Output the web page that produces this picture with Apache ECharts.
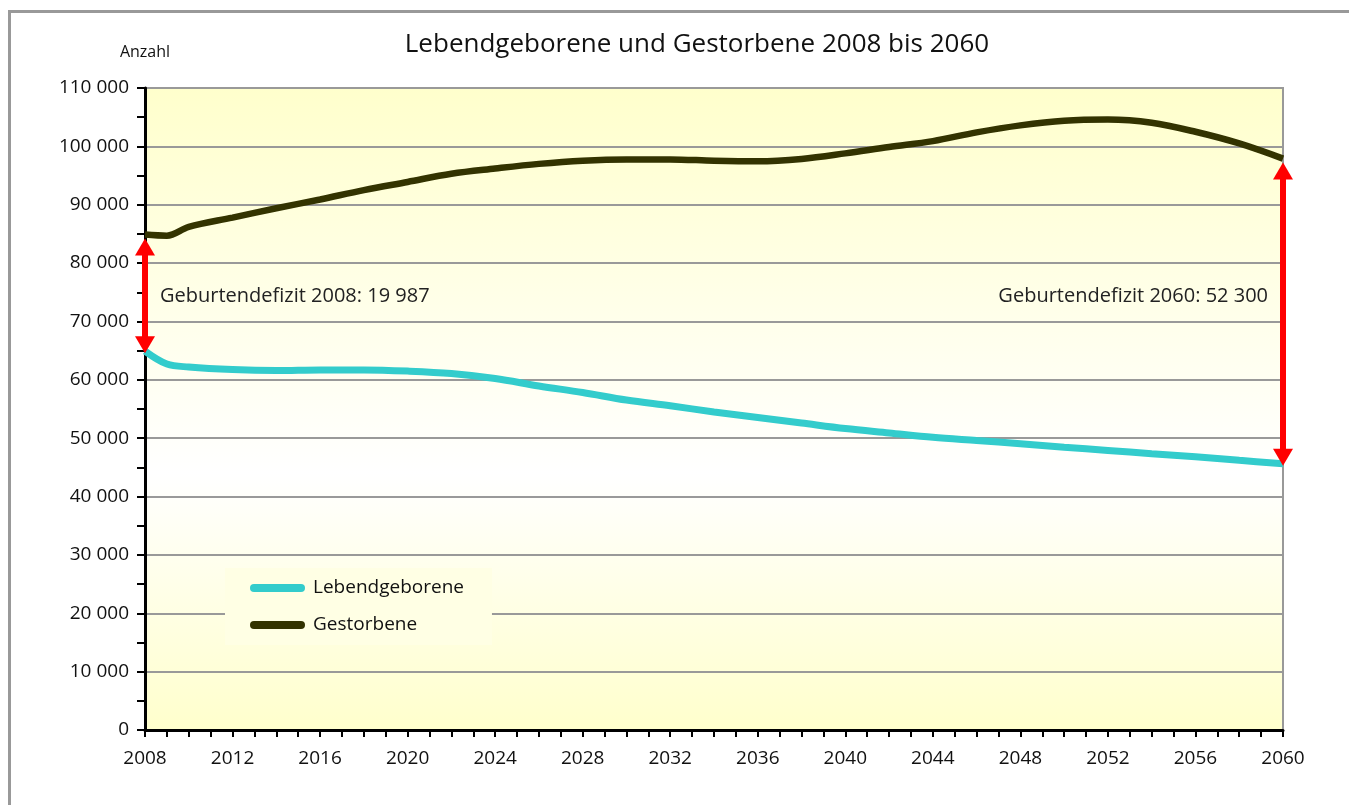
<!DOCTYPE html>
<html>
<head>
<meta charset="utf-8">
<script src="https://cdn.jsdelivr.net/npm/echarts@6/dist/echarts.min.js"></script>
<style>
html,body{margin:0;padding:0;background:#fff;}
#chart{width:1349px;height:805px;}
</style>
</head>
<body>
<div id="chart"></div>
<script>
// ---- Data ----
const years = [2008, 2009, 2010, 2012, 2014, 2016, 2018, 2020, 2022, 2024, 2026, 2028, 2030, 2032, 2034, 2036, 2038, 2040, 2042, 2044, 2046, 2048, 2050, 2052, 2054, 2056, 2058, 2060];
const lebendgeborene = [64913, 62700, 62200, 61760, 61600, 61700, 61700, 61500, 61080, 60220, 58950, 57830, 56530, 55550, 54500, 53550, 52600, 51650, 50900, 50150, 49600, 49050, 48450, 47900, 47350, 46800, 46200, 45600];
const gestorbene = [84900, 84700, 86200, 87800, 89400, 90900, 92500, 93900, 95300, 96200, 97000, 97550, 97770, 97770, 97550, 97450, 97850, 98800, 99900, 100900, 102400, 103600, 104400, 104600, 104050, 102500, 100500, 97900];
const seriesNames = ['Lebendgeborene', 'Gestorbene'];
const titleText = 'Lebendgeborene und Gestorbene 2008 bis 2060';
const yAxisName = 'Anzahl';
const note2008 = 'Geburtendefizit 2008: 19 987';
const note2060 = 'Geburtendefizit 2060: 52 300';

const FONT = '"Open Sans", "Noto Sans", sans-serif';
const fmt = v => String(v).replace(/\B(?=(\d{3})+(?!\d))/g, ' ');

const lebData = years.map((y, i) => [y, lebendgeborene[i]]);
const gesData = years.map((y, i) => [y, gestorbene[i]]);
const first = 0, last = years.length - 1;
// deficit arrows: [year, Gestorbene, Lebendgeborene]
const arrowData = [
  [years[first], gestorbene[first], lebendgeborene[first]],
  [years[last], gestorbene[last], lebendgeborene[last]]
];

function renderArrow(params, api) {
  const top = api.coord([api.value(0), api.value(1)]);
  const bot = api.coord([api.value(0), api.value(2)]);
  const x = top[0];
  const yTop = top[1] + 4;   // tip sits just under the line
  const yBot = bot[1] + 2;
  const hw = 10, hh = 17, sw = 3;
  const red = '#FF0000';
  return {
    type: 'group',
    children: [
      {type: 'rect', shape: {x: x - sw, y: yTop + hh - 1, width: sw * 2, height: (yBot - hh + 1) - (yTop + hh - 1)}, style: {fill: red}},
      {type: 'polygon', shape: {points: [[x, yTop], [x - hw, yTop + hh], [x + hw, yTop + hh]]}, style: {fill: red}},
      {type: 'polygon', shape: {points: [[x, yBot], [x - hw, yBot - hh], [x + hw, yBot - hh]]}, style: {fill: red}}
    ]
  };
}

const chart = echarts.init(document.getElementById('chart'), null, {renderer: 'canvas'});
chart.setOption({
  animation: false,
  backgroundColor: '#ffffff',
  textStyle: {fontFamily: FONT},
  grid: {
    left: 145, top: 88, right: 66, bottom: 75,
    show: true, borderColor: '#999999', borderWidth: 2,
    backgroundColor: {
      type: 'linear', x: 0, y: 0, x2: 0, y2: 1,
      colorStops: [
        {offset: 0, color: '#FFFFCC'},
        {offset: 0.6, color: '#FFFFFF'},
        {offset: 1, color: '#FFFFCC'}
      ]
    }
  },
  graphic: [
    {type: 'rect', shape: {x: 9.5, y: 11.5, width: 2000, height: 2000}, style: {fill: 'none', stroke: '#999999', lineWidth: 3}, silent: true, z: -10},
    {type: 'text', x: 697, y: 45, style: {text: titleText, font: '26px ' + FONT, fill: '#111', align: 'center', verticalAlign: 'middle'}},
    {type: 'text', x: 160, y: 296, style: {text: note2008, font: '20px ' + FONT, fill: '#222', align: 'left', verticalAlign: 'middle'}, z: 10},
    {type: 'text', x: 1268, y: 296, style: {text: note2060, font: '20px ' + FONT, fill: '#222', align: 'right', verticalAlign: 'middle'}, z: 10}
  ],
  legend: {
    orient: 'vertical',
    left: 225, top: 568,
    padding: [9, 28, 9, 25],
    backgroundColor: '#FFFFE4',
    itemWidth: 55, itemHeight: 8, itemGap: 15,
    icon: 'path://M4 0H51A4 4 0 0 1 51 8H4A4 4 0 0 1 4 0Z',
    data: seriesNames,
    textStyle: {fontSize: 19, color: '#111', fontFamily: FONT, lineHeight: 22, padding: [0, 0, 0, 3]}
  },
  xAxis: {
    type: 'value', min: 2008, max: 2060, interval: 4,
    axisLine: {show: true, lineStyle: {color: '#000', width: 3}},
    axisTick: {show: true, length: 7, lineStyle: {color: '#000', width: 2}},
    minorTick: {show: true, splitNumber: 4, length: 7, lineStyle: {color: '#000', width: 2}},
    splitLine: {show: false},
    axisLabel: {fontSize: 19, color: '#111', margin: 19, fontFamily: FONT, formatter: v => String(v)}
  },
  yAxis: {
    type: 'value', min: 0, max: 110000, interval: 10000,
    name: yAxisName, nameLocation: 'end', nameGap: 28,
    nameTextStyle: {fontSize: 16, color: '#111', fontFamily: FONT, align: 'center'},
    axisLine: {show: true, lineStyle: {color: '#000', width: 3}},
    axisTick: {show: true, length: 8, lineStyle: {color: '#000', width: 2}},
    minorTick: {show: true, splitNumber: 2, length: 8, lineStyle: {color: '#000', width: 2}},
    splitLine: {show: true, lineStyle: {color: '#999999', width: 2}},
    axisLabel: {fontSize: 19, color: '#111', margin: 16, fontFamily: FONT, formatter: fmt}
  },
  series: [
    {
      name: seriesNames[0], type: 'line', data: lebData, smooth: 0.35,
      showSymbol: false, color: '#33CCCC',
      lineStyle: {color: '#33CCCC', width: 7}, itemStyle: {color: '#33CCCC'}, z: 3
    },
    {
      name: seriesNames[1], type: 'line', data: gesData, smooth: 0.35,
      showSymbol: false, color: '#333300',
      lineStyle: {color: '#333300', width: 6.5}, itemStyle: {color: '#333300'}, z: 3
    },
    {
      name: 'Geburtendefizit', type: 'custom', data: arrowData,
      renderItem: renderArrow, silent: true, z: 5,
      encode: {x: 0, y: [1, 2]}, clip: false
    }
  ]
});
</script>
</body>
</html>
